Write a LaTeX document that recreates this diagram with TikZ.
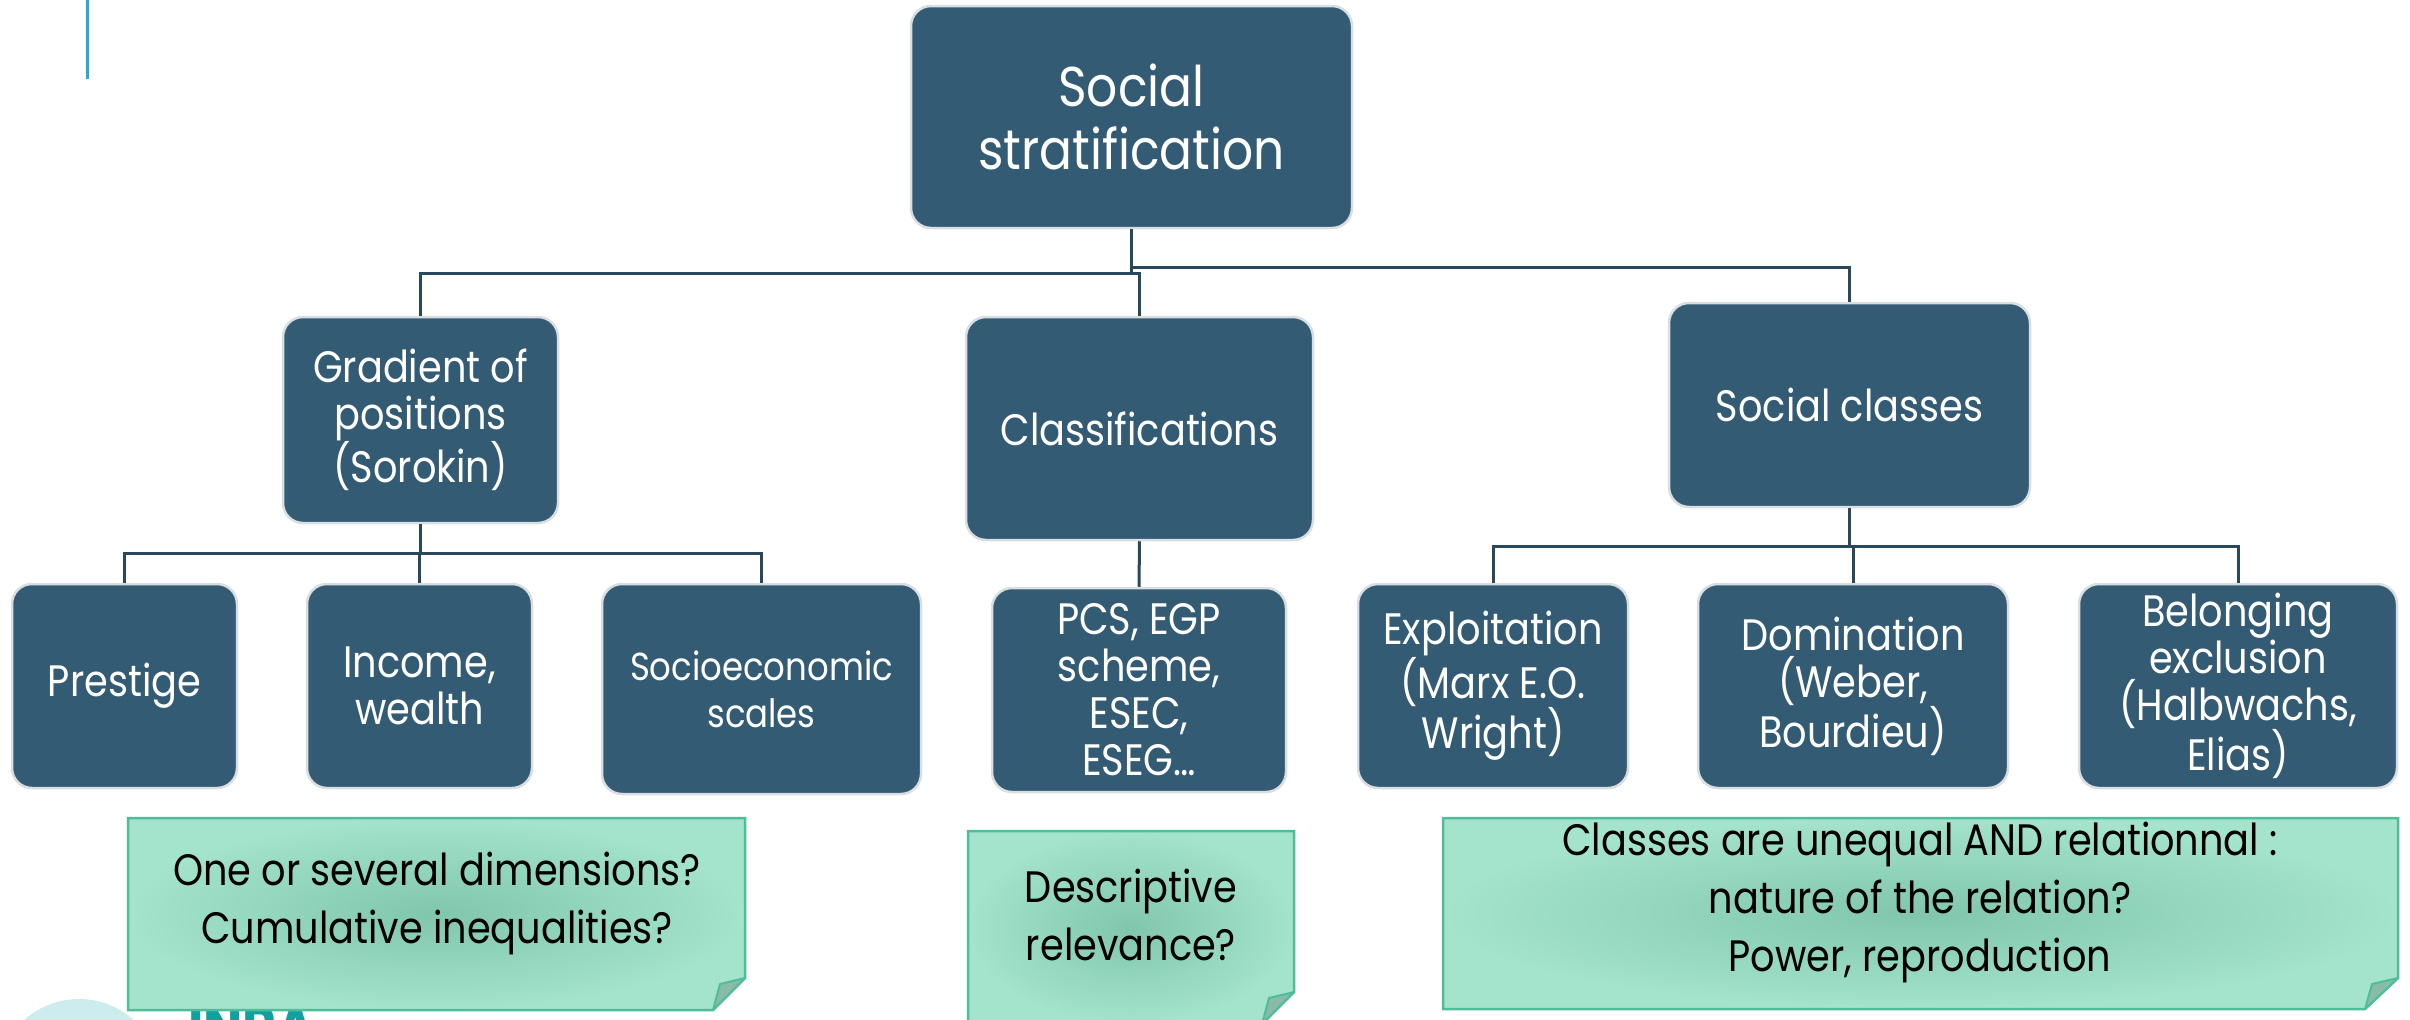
\documentclass[tikz,border=0pt]{standalone}
\usepackage{fontspec}
\setmainfont[FakeStretch=0.87]{Poppins}
\usetikzlibrary{calc}
\definecolor{boxblue}{RGB}{52,91,116}
\definecolor{boxedge}{RGB}{217,222,227}
\definecolor{linecol}{RGB}{42,72,92}
\definecolor{notelight}{RGB}{164,227,204}
\definecolor{notedark}{RGB}{128,198,173}
\definecolor{noteedge}{RGB}{77,190,153}
\definecolor{foldcol}{RGB}{138,187,166}
\definecolor{accentblue}{RGB}{41,168,224}
\definecolor{circcol}{RGB}{204,236,238}
\definecolor{inracol}{RGB}{16,160,160}
\begin{document}
\begin{tikzpicture}[x=1pt,y=-1pt,
  stratbox/.style={rectangle, rounded corners=20pt, fill=boxblue, draw=boxedge,
    line width=2.5pt, text=white, align=center, inner sep=0pt,
    font=\fontsize{44}{47}\selectfont},
  conn/.style={draw=linecol, line width=3pt},
  notetext/.style={align=center, text=black, inner sep=0pt,
    font=\fontsize{44}{58}\selectfont},
  noteshape/.style={draw=noteedge, line width=2.5pt, shading=radial,
    inner color=notedark, outer color=notelight},
  foldshape/.style={fill=foldcol, draw=noteedge, line width=2pt, line join=round}]
\useasboundingbox (0,0) rectangle (2410,1020);
\clip (0,0) rectangle (2410,1020);

% decorations
\draw[accentblue, line width=3pt] (87,0) -- (87,79);
\fill[circcol] (79,1081) circle (82);
\node[anchor=north west, inner sep=0pt, text=inracol,
  font=\bfseries\fontsize{60}{60}\selectfont] (inra) at (188,1006) {INRA};

% boxes
\node[stratbox, minimum width=441pt, minimum height=222pt,
  font=\fontsize{56}{63}\selectfont] (top) at (1131.5,117) {Social\\stratification};
\node[stratbox, minimum width=275pt, minimum height=206pt] (grad) at (420.5,420) {Gradient of\\positions\\(Sorokin)};
\node[stratbox, minimum width=347pt, minimum height=223pt] (clas) at (1139.5,428.5) {Classifications};
\node[stratbox, minimum width=361pt, minimum height=204pt] (socl) at (1849.5,405) {Social classes};

\node[stratbox, minimum width=225pt, minimum height=204pt] (pres) at (124.5,686) {Prestige};
\node[stratbox, minimum width=225pt, minimum height=204pt] (inco) at (419.5,686) {Income,\\wealth};
\node[stratbox, minimum width=319pt, minimum height=210pt,
  font=\fontsize{39}{47}\selectfont] (soci) at (761.5,689) {Socioeconomic\\scales};
\node[stratbox, minimum width=294pt, minimum height=204pt] (pcs) at (1139,690) {PCS, EGP\\scheme,\\ESEC,\\ESEG…};
\node[stratbox, minimum width=270pt, minimum height=204pt] (expl) at (1493,686) {Exploitation\\(Marx E.O.\\Wright)};
\node[stratbox, minimum width=310pt, minimum height=204pt] (domi) at (1853,686) {Domination\\(Weber,\\Bourdieu)};
\node[stratbox, minimum width=318pt, minimum height=204pt] (belo) at (2238,686) {Belonging\\exclusion\\(Halbwachs,\\Elias)};

% connectors
\draw[conn] (top.south) -- ++(0,44) -| (grad.north);
\draw[conn] (top.south) -- ++(0,44) -| (clas.north);
\draw[conn] (top.south) -- ++(0,38) -| (socl.north);
\draw[conn] (grad.south) -- ++(0,29) -| (pres.north);
\draw[conn] (grad.south) -- ++(0,29) -| (inco.north);
\draw[conn] (grad.south) -- ++(0,29) -| (soci.north);
\draw[conn] (clas.south) -- (pcs.north);
\draw[conn] (socl.south) -- ++(0,38) -| (expl.north);
\draw[conn] (socl.south) -- ++(0,38) -| (domi.north);
\draw[conn] (socl.south) -- ++(0,38) -| (belo.north);

% notes
\path[noteshape] (128,818) -- (745,818) -- (745,978) -- (713,1010) -- (128,1010) -- cycle;
\path[foldshape] (745,978) -- (720,984) -- (713,1010) -- cycle;
\node[notetext] (n1) at (437,903) {One or several dimensions?\\Cumulative inequalities?};

\path[noteshape] (968,831) -- (1294,831) -- (1294,992) -- (1262,1024) -- (968,1024) -- cycle;
\path[foldshape] (1294,992) -- (1269,998) -- (1262,1024) -- cycle;
\node[notetext] (n2) at (1131,915) {Descriptive\\relevance?};

\path[noteshape] (1443,818) -- (2398,818) -- (2398,978) -- (2365,1009) -- (1443,1009) -- cycle;
\path[foldshape] (2398,978) -- (2372,984) -- (2365,1009) -- cycle;
\node[notetext] (n3) at (1920,902) {Classes are unequal AND relationnal :\\nature of the relation?\\Power, reproduction};
\end{tikzpicture}
\end{document}
